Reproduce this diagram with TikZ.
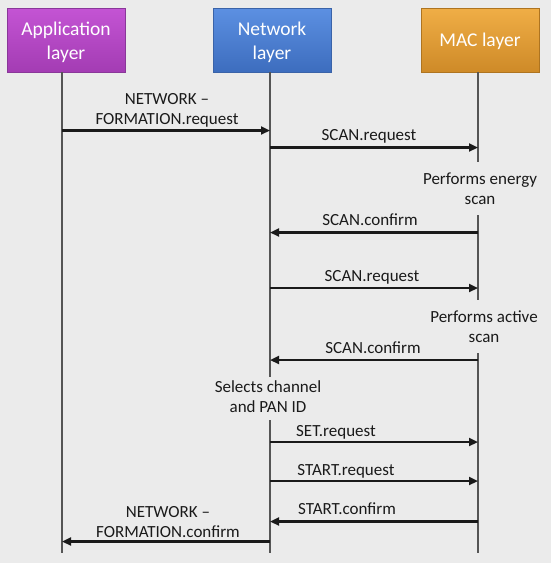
\documentclass[tikz,border=0pt]{standalone}
\usepackage{fontspec}
\setmainfont{Carlito}
\usetikzlibrary{arrows.meta}
\definecolor{bg}{HTML}{EBEBEB}
\definecolor{ink}{HTML}{1A1A1A}
\definecolor{lifegray}{HTML}{555555}
\definecolor{apptop}{HTML}{C454D4}
\definecolor{appbot}{HTML}{A33CB3}
\definecolor{appedge}{HTML}{8A3799}
\definecolor{nettop}{HTML}{5C90E2}
\definecolor{netbot}{HTML}{3D6DBE}
\definecolor{netedge}{HTML}{3A63A8}
\definecolor{mactop}{HTML}{F0AE46}
\definecolor{macbot}{HTML}{CE8A28}
\definecolor{macedge}{HTML}{AE7420}
\tikzset{
  layerbox/.style={draw, line width=1pt, minimum width=118pt, minimum height=64pt,
    inner sep=0pt},
  boxtext/.style={align=center, text=white, inner sep=0pt, font=\fontsize{19.5}{23.5}\selectfont},
  lifeline/.style={draw=lifegray, line width=1.1pt},
  msg/.style={draw=ink, line width=2.2pt, -{Triangle[length=9pt,width=8pt]}},
  msglabel/.style={text=ink, font=\fontsize{17}{20}\selectfont, inner sep=0pt, align=center},
}
\begin{document}
\begin{tikzpicture}[x=1pt,y=-1pt]
\fill[bg] (0,0) rectangle (551,563);
\useasboundingbox (0,0) rectangle (551,563);

% layer boxes
\node[layerbox, draw=appedge, top color=apptop, bottom color=appbot] (app) at (66,40) {};
\node[layerbox, draw=netedge, top color=nettop, bottom color=netbot] (net) at (272,40) {};
\node[layerbox, draw=macedge, top color=mactop, bottom color=macbot] (mac) at (480,40) {};
\node[boxtext] (apptext) at ([yshift=-2.2pt]app.center) {Application\\layer};
\node[boxtext] (nettext) at ([yshift=-2.2pt]net.center) {Network\\layer};
\node[boxtext] (mactext) at ([yshift=-1.2pt]mac.center) {MAC layer};

% lifeline coordinates
\coordinate (appT) at (62,72);
\coordinate (appB) at (62,553);
\coordinate (netT) at (270,72);
\coordinate (netG1) at (270,377);
\coordinate (netG2) at (270,420);
\coordinate (netB) at (270,553);
\coordinate (macT) at (478,72);
\coordinate (macG1) at (478,162);
\coordinate (macG2) at (478,215);
\coordinate (macG3) at (478,300);
\coordinate (macG4) at (478,353);
\coordinate (macB) at (478,553);

\draw[lifeline] (appT) -- (appB);
\draw[lifeline] (netT) -- (netG1);
\draw[lifeline] (netG2) -- (netB);
\draw[lifeline] (macT) -- (macG1);
\draw[lifeline] (macG2) -- (macG3);
\draw[lifeline] (macG4) -- (macB);

% message end points
\coordinate (a1) at (62,130.5);   \coordinate (n1) at (270,130.5);
\coordinate (n2) at (270,147.5);  \coordinate (m2) at (478,147.5);
\coordinate (m3) at (478,232.5);  \coordinate (n3) at (270,232.5);
\coordinate (n4) at (270,288);    \coordinate (m4) at (478,288);
\coordinate (m5) at (478,360);    \coordinate (n5) at (270,360);
\coordinate (n6) at (270,442);    \coordinate (m6) at (478,442);
\coordinate (n7) at (270,481);    \coordinate (m7) at (478,481);
\coordinate (m8) at (478,521.5);  \coordinate (n8) at (270,521.5);
\coordinate (n9) at (270,541.5);  \coordinate (a9) at (62,541.5);

\draw[msg] (a1) -- (n1);
\draw[msg] (n2) -- (m2);
\draw[msg] (m3) -- (n3);
\draw[msg] (n4) -- (m4);
\draw[msg] (m5) -- (n5);
\draw[msg] (n6) -- (m6);
\draw[msg] (n7) -- (m7);
\draw[msg] (m8) -- (n8);
\draw[msg] (n9) -- (a9);

% labels
\node[msglabel] (l1) at (167,110.5) {NETWORK --\\FORMATION.request};
\node[msglabel, anchor=base] (l2) at (369,140) {SCAN.request};
\node[msglabel, anchor=base] (l3) at (370,225) {SCAN.confirm};
\node[msglabel, anchor=base] (l4) at (372,281) {SCAN.request};
\node[msglabel, anchor=base] (l5) at (373,353) {SCAN.confirm};
\node[msglabel, anchor=base] (l6) at (336,436) {SET.request};
\node[msglabel, anchor=base] (l7) at (346,475) {START.request};
\node[msglabel, anchor=base] (l8) at (347,514) {START.confirm};
\node[msglabel] (l9) at (168,522) {NETWORK --\\FORMATION.confirm};

% notes
\node[msglabel] (e1) at (480,189) {Performs energy\\scan};
\node[msglabel] (e2) at (484,327) {Performs active\\scan};
\node[msglabel] (e3) at (268,397) {Selects channel\\and PAN ID};
\end{tikzpicture}
\end{document}
